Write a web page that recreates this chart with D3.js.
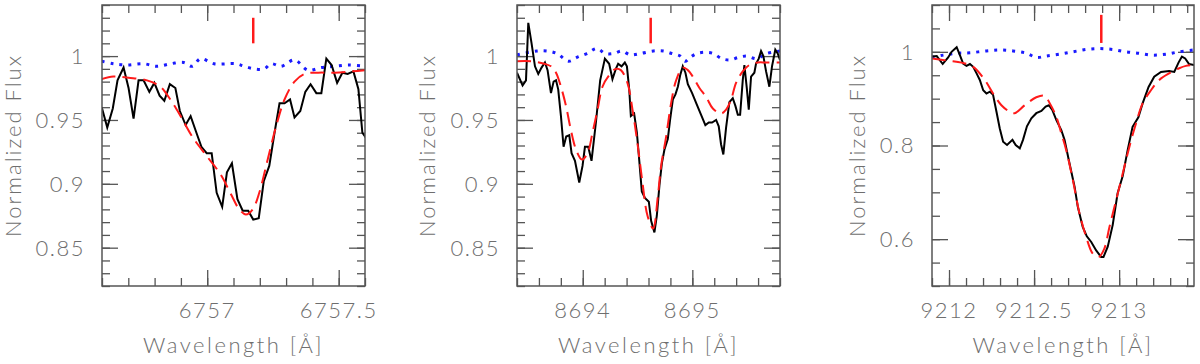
<!DOCTYPE html>
<html>
<head>
<meta charset="utf-8">
<script src="https://cdn.jsdelivr.net/npm/d3@7"></script>
<style>
  body { margin: 0; background: #fff; }
  svg text { font-family: Lato, "DejaVu Sans", sans-serif; font-weight: 300; fill: #6e6e6e; }
</style>
</head>
<body>
<svg id="chart" width="1200" height="364"></svg>
<script>
// ---- panel 1 : 6757 A ----
var xDomain1 = [6756.6, 6757.6];
var yDomain1 = [0.82, 1.04];
var xTicks1 = [6757, 6757.5];
var yTicks1 = [0.85, 0.9, 0.95, 1];
var obsWave1 = [6756.599, 6756.620, 6756.641, 6756.659, 6756.682, 6756.701, 6756.720, 6756.739, 6756.758, 6756.780,
  6756.799, 6756.819, 6756.837, 6756.858, 6756.879, 6756.896, 6756.918, 6756.937, 6756.959, 6756.978,
  6756.998, 6757.017, 6757.036, 6757.057, 6757.075, 6757.094, 6757.115, 6757.135, 6757.156, 6757.175,
  6757.196, 6757.215, 6757.236, 6757.256, 6757.275, 6757.294, 6757.315, 6757.332, 6757.354, 6757.373,
  6757.393, 6757.415, 6757.434, 6757.453, 6757.473, 6757.494, 6757.514, 6757.534, 6757.556, 6757.575,
  6757.590, 6757.607];
var obsFlux1 = [0.960, 0.944, 0.959, 0.981, 0.991, 0.975, 0.951, 0.981, 0.981, 0.972,
  0.979, 0.969, 0.965, 0.978, 0.975, 0.957, 0.946, 0.953, 0.940, 0.929,
  0.924, 0.924, 0.893, 0.882, 0.909, 0.916, 0.888, 0.879, 0.879, 0.872,
  0.873, 0.902, 0.914, 0.940, 0.963, 0.963, 0.966, 0.952, 0.957, 0.972,
  0.978, 0.971, 0.971, 0.998, 0.993, 0.979, 0.987, 0.986, 0.988, 0.974,
  0.940, 0.935];
var modelWave1 = [6756.599, 6756.643, 6756.701, 6756.771, 6756.822, 6756.860, 6756.899, 6756.943, 6757.001, 6757.052,
  6757.090, 6757.122, 6757.147, 6757.173, 6757.198, 6757.230, 6757.262, 6757.294, 6757.332, 6757.370,
  6757.422, 6757.485, 6757.549, 6757.606];
var modelFlux1 = [0.982, 0.984, 0.983, 0.981, 0.976, 0.966, 0.953, 0.937, 0.921, 0.907,
  0.892, 0.880, 0.876, 0.880, 0.893, 0.919, 0.945, 0.966, 0.980, 0.986,
  0.987, 0.987, 0.988, 0.989];
var tellWave1 = [6756.599, 6756.643, 6756.695, 6756.758, 6756.809, 6756.860, 6756.911, 6756.943, 6756.975, 6757.026,
  6757.109, 6757.141, 6757.179, 6757.217, 6757.243, 6757.281, 6757.332, 6757.383, 6757.434, 6757.485,
  6757.536, 6757.606];
var tellFlux1 = [0.996, 0.994, 0.993, 0.994, 0.992, 0.994, 0.995, 0.992, 0.998, 0.994,
  0.994, 0.992, 0.990, 0.990, 0.994, 0.992, 0.997, 0.989, 0.991, 0.992,
  0.993, 0.992];

// ---- panel 2 : 8694 A ----
var xDomain2 = [8693.4, 8695.8];
var yDomain2 = [0.82, 1.04];
var xTicks2 = [8694, 8695];
var yTicks2 = [0.85, 0.9, 0.95, 1];
var obsWave2 = [8693.400, 8693.451, 8693.482, 8693.503, 8693.533, 8693.564, 8693.594, 8693.624, 8693.655, 8693.679,
  8693.710, 8693.734, 8693.756, 8693.776, 8693.801, 8693.825, 8693.849, 8693.877, 8693.898, 8693.929,
  8693.968, 8693.998, 8694.020, 8694.050, 8694.080, 8694.120, 8694.159, 8694.202, 8694.241, 8694.271,
  8694.302, 8694.323, 8694.354, 8694.384, 8694.403, 8694.424, 8694.439, 8694.469, 8694.494, 8694.515,
  8694.539, 8694.567, 8694.603, 8694.624, 8694.654, 8694.676, 8694.700, 8694.722, 8694.746, 8694.776,
  8694.797, 8694.822, 8694.846, 8694.868, 8694.889, 8694.913, 8694.937, 8694.959, 8694.998, 8695.041,
  8695.080, 8695.119, 8695.150, 8695.180, 8695.217, 8695.241, 8695.262, 8695.283, 8695.308, 8695.338,
  8695.369, 8695.393, 8695.415, 8695.436, 8695.460, 8695.475, 8695.497, 8695.515, 8695.536, 8695.566,
  8695.581, 8695.606, 8695.627, 8695.648, 8695.673, 8695.703, 8695.727, 8695.757, 8695.779, 8695.800];
var obsFlux2 = [0.987, 0.977, 0.981, 1.026, 1.010, 0.992, 0.986, 0.991, 0.995, 0.989,
  0.971, 0.980, 0.981, 0.974, 0.953, 0.929, 0.937, 0.938, 0.924, 0.918,
  0.901, 0.914, 0.929, 0.929, 0.918, 0.948, 0.981, 0.998, 0.994, 0.982,
  0.990, 0.994, 0.992, 0.995, 0.992, 0.974, 0.953, 0.955, 0.940, 0.919,
  0.894, 0.889, 0.886, 0.871, 0.862, 0.875, 0.899, 0.916, 0.927, 0.935,
  0.950, 0.966, 0.970, 0.976, 0.985, 0.992, 0.987, 0.978, 0.971, 0.962,
  0.954, 0.946, 0.948, 0.948, 0.950, 0.945, 0.931, 0.923, 0.944, 0.964,
  0.967, 0.961, 0.954, 0.954, 0.981, 0.993, 0.975, 0.958, 0.984, 0.987,
  0.994, 0.998, 1.004, 1.000, 0.988, 0.976, 0.992, 1.005, 1.002, 0.997];
var modelWave2 = [8693.400, 8693.528, 8693.649, 8693.710, 8693.756, 8693.801, 8693.847, 8693.892, 8693.938, 8693.993,
  8694.044, 8694.089, 8694.135, 8694.180, 8694.241, 8694.302, 8694.348, 8694.408, 8694.454, 8694.499,
  8694.545, 8694.591, 8694.642, 8694.685, 8694.715, 8694.761, 8694.806, 8694.852, 8694.913, 8694.959,
  8695.004, 8695.065, 8695.126, 8695.187, 8695.262, 8695.308, 8695.354, 8695.399, 8695.460, 8695.520,
  8695.597, 8695.673, 8695.800];
var modelFlux2 = [0.996, 0.996, 0.994, 0.992, 0.987, 0.976, 0.961, 0.942, 0.927, 0.919,
  0.924, 0.940, 0.958, 0.976, 0.985, 0.990, 0.989, 0.979, 0.958, 0.932,
  0.901, 0.875, 0.865, 0.890, 0.914, 0.937, 0.963, 0.981, 0.991, 0.989,
  0.984, 0.975, 0.968, 0.959, 0.955, 0.958, 0.966, 0.979, 0.988, 0.993,
  0.995, 0.995, 0.995];
var tellWave2 = [8693.400, 8693.582, 8693.673, 8693.765, 8693.870, 8693.947, 8694.038, 8694.129, 8694.205, 8694.281,
  8694.357, 8694.433, 8694.524, 8694.645, 8694.736, 8694.813, 8694.889, 8694.934, 8694.980, 8695.041,
  8695.117, 8695.192, 8695.269, 8695.344, 8695.420, 8695.497, 8695.588, 8695.679, 8695.800];
var tellFlux2 = [1.001, 1.004, 1.004, 1.002, 0.996, 0.999, 1.002, 1.006, 1.002, 1.002,
  1.004, 1.001, 1.002, 1.004, 1.004, 1.002, 1.000, 0.996, 0.999, 1.002,
  1.003, 1.002, 0.998, 0.997, 0.999, 1.000, 0.998, 1.002, 1.004];

// ---- panel 3 : 9213 A ----
var xDomain3 = [9211.9, 9213.44];
var yDomain3 = [0.5, 1.1];
var xTicks3 = [9212, 9212.5, 9213];
var yTicks3 = [0.6, 0.8, 1];
var obsWave3 = [9211.898, 9211.928, 9211.963, 9211.995, 9212.015, 9212.045, 9212.064, 9212.083, 9212.103, 9212.123,
  9212.142, 9212.162, 9212.181, 9212.201, 9212.220, 9212.240, 9212.259, 9212.279, 9212.298, 9212.318,
  9212.341, 9212.373, 9212.392, 9212.416, 9212.435, 9212.458, 9212.484, 9212.513, 9212.543, 9212.568,
  9212.587, 9212.607, 9212.631, 9212.660, 9212.679, 9212.704, 9212.738, 9212.757, 9212.786, 9212.810,
  9212.836, 9212.865, 9212.894, 9212.908, 9212.933, 9212.962, 9212.991, 9213.021, 9213.050, 9213.079,
  9213.113, 9213.138, 9213.173, 9213.206, 9213.246, 9213.294, 9213.324, 9213.349, 9213.369, 9213.388,
  9213.411, 9213.441];
var obsFlux3 = [0.990, 0.991, 0.974, 0.988, 1.000, 1.010, 0.993, 0.975, 0.970, 0.974,
  0.968, 0.954, 0.940, 0.918, 0.911, 0.915, 0.908, 0.872, 0.837, 0.808,
  0.801, 0.812, 0.801, 0.794, 0.812, 0.841, 0.858, 0.869, 0.874, 0.883,
  0.886, 0.876, 0.854, 0.833, 0.812, 0.769, 0.712, 0.669, 0.626, 0.606,
  0.594, 0.576, 0.562, 0.562, 0.584, 0.630, 0.698, 0.735, 0.790, 0.840,
  0.860, 0.890, 0.925, 0.947, 0.957, 0.959, 0.957, 0.977, 0.990, 0.986,
  0.974, 0.972];
var modelWave3 = [9211.898, 9211.995, 9212.074, 9212.142, 9212.210, 9212.259, 9212.308, 9212.357, 9212.386, 9212.445,
  9212.513, 9212.562, 9212.591, 9212.631, 9212.660, 9212.689, 9212.728, 9212.767, 9212.806, 9212.845,
  9212.880, 9212.913, 9212.943, 9212.982, 9213.021, 9213.060, 9213.099, 9213.138, 9213.187, 9213.236,
  9213.294, 9213.353, 9213.392, 9213.441];
var modelFlux3 = [0.986, 0.981, 0.977, 0.968, 0.940, 0.911, 0.886, 0.872, 0.869, 0.886,
  0.903, 0.906, 0.891, 0.861, 0.826, 0.790, 0.726, 0.655, 0.605, 0.569,
  0.562, 0.580, 0.626, 0.683, 0.740, 0.797, 0.847, 0.890, 0.918, 0.940,
  0.954, 0.965, 0.970, 0.972];
var tellWave3 = [9211.898, 9211.966, 9212.045, 9212.123, 9212.220, 9212.298, 9212.376, 9212.455, 9212.513, 9212.572,
  9212.650, 9212.728, 9212.806, 9212.884, 9212.962, 9213.040, 9213.118, 9213.196, 9213.275, 9213.353,
  9213.437];
var tellFlux3 = [0.988, 0.993, 0.997, 0.998, 1.002, 1.004, 1.002, 0.997, 0.988, 0.991,
  0.995, 1.000, 1.005, 1.007, 1.005, 1.000, 0.997, 0.993, 0.995, 1.000,
  1.004];

// line centre markers: wavelength, lower and upper flux
var markerWave = [6757.175, 8694.62, 9212.895];
var markerLow = [1.010, 1.010, 1.019];
var markerHigh = [1.030, 1.030, 1.079];

// minor tick steps per panel
var minorX = [0.1, 0.2, 0.1];
var minorY = [0.01, 0.01, 0.05];

// ---- layout ----
var plotTop = 5, plotBottom = 286;
var layout = [
  { left: 102, right: 365, ylab: 89 },
  { left: 517, right: 780, ylab: 90 },
  { left: 932, right: 1194, ylab: 75 }
];

var panels = [
  { xd: xDomain1, yd: yDomain1, xt: xTicks1, yt: yTicks1, ow: obsWave1, of: obsFlux1, mw: modelWave1, mf: modelFlux1, tw: tellWave1, tf: tellFlux1 },
  { xd: xDomain2, yd: yDomain2, xt: xTicks2, yt: yTicks2, ow: obsWave2, of: obsFlux2, mw: modelWave2, mf: modelFlux2, tw: tellWave2, tf: tellFlux2 },
  { xd: xDomain3, yd: yDomain3, xt: xTicks3, yt: yTicks3, ow: obsWave3, of: obsFlux3, mw: modelWave3, mf: modelFlux3, tw: tellWave3, tf: tellFlux3 }
];

var svg = d3.select("#chart");
var frameColor = "#555";

function minorValues(domain, step) {
  var out = [];
  var start = Math.ceil(domain[0] / step - 1e-6);
  for (var k = start; k * step <= domain[1] + 1e-9; k++) out.push(+(k * step).toFixed(4));
  return out;
}

panels.forEach(function(p, i) {
  var L = layout[i];
  var x = d3.scaleLinear().domain(p.xd).range([L.left, L.right]);
  var y = d3.scaleLinear().domain(p.yd).range([plotBottom, plotTop]);
  var g = svg.append("g");

  g.append("clipPath").attr("id", "clip" + i)
    .append("rect")
      .attr("x", L.left).attr("y", plotTop)
      .attr("width", L.right - L.left).attr("height", plotBottom - plotTop);

  // ticks on all four sides
  var xMinor = minorValues(p.xd, minorX[i]);
  var yMinor = minorValues(p.yd, minorY[i]);
  function tickStyle(sel) {
    sel.select(".domain").remove();
    sel.selectAll("line").attr("stroke", frameColor).attr("stroke-width", 1.3);
  }
  [[xMinor, 8], [p.xt, 16]].forEach(function(t) {
    g.append("g").attr("transform", "translate(0," + plotBottom + ")")
      .call(d3.axisBottom(x).tickValues(t[0]).tickSize(-t[1]).tickFormat(""))
      .call(tickStyle);
    g.append("g").attr("transform", "translate(0," + plotTop + ")")
      .call(d3.axisTop(x).tickValues(t[0]).tickSize(-t[1]).tickFormat(""))
      .call(tickStyle);
  });
  [[yMinor, 8], [p.yt, 16]].forEach(function(t) {
    g.append("g").attr("transform", "translate(" + L.left + ",0)")
      .call(d3.axisLeft(y).tickValues(t[0]).tickSize(-t[1]).tickFormat(""))
      .call(tickStyle);
    g.append("g").attr("transform", "translate(" + L.right + ",0)")
      .call(d3.axisRight(y).tickValues(t[0]).tickSize(-t[1]).tickFormat(""))
      .call(tickStyle);
  });

  // tick labels
  g.selectAll(".xl").data(p.xt).enter().append("text")
    .attr("x", function(d) { return x(d); })
    .attr("y", 318)
    .attr("text-anchor", "middle")
    .attr("font-size", 22)
    .attr("letter-spacing", 1.5)
    .text(function(d) { return String(d); });

  g.selectAll(".yl").data(p.yt).enter().append("text")
    .attr("x", L.left - 17)
    .attr("y", function(d) { return y(d); })
    .attr("dy", "0.36em")
    .attr("text-anchor", "end")
    .attr("font-size", 22)
    .attr("letter-spacing", 1.5)
    .text(function(d) { return String(d); });

  // axis titles
  g.append("text")
    .attr("x", (L.left + L.right) / 2)
    .attr("y", 353)
    .attr("text-anchor", "middle")
    .attr("font-size", 22)
    .attr("letter-spacing", 2.5)
    .text("Wavelength [Å]");

  g.append("text")
    .attr("transform", "translate(" + (L.left - L.ylab) + "," + ((plotTop + plotBottom) / 2) + ") rotate(-90)")
    .attr("dy", "0.36em")
    .attr("text-anchor", "middle")
    .attr("font-size", 22)
    .attr("letter-spacing", 2)
    .text("Normalized Flux");

  var plot = g.append("g").attr("clip-path", "url(#clip" + i + ")");

  function series(w, f) { return w.map(function(d, k) { return [d, f[k]]; }); }
  var line = d3.line().x(function(d) { return x(d[0]); }).y(function(d) { return y(d[1]); });
  var smooth = d3.line().curve(d3.curveCatmullRom).x(function(d) { return x(d[0]); }).y(function(d) { return y(d[1]); });

  plot.append("path").datum(series(p.tw, p.tf))
    .attr("d", smooth)
    .attr("fill", "none")
    .attr("stroke", "#1a1aff")
    .attr("stroke-width", 3)
    .attr("stroke-dasharray", "3,6");

  plot.append("path").datum(series(p.ow, p.of))
    .attr("d", line)
    .attr("fill", "none")
    .attr("stroke", "#000")
    .attr("stroke-width", 2);

  plot.append("path").datum(series(p.mw, p.mf))
    .attr("d", smooth)
    .attr("fill", "none")
    .attr("stroke", "#ff1a1a")
    .attr("stroke-width", 2)
    .attr("stroke-dasharray", "14,7");

  // line marker
  plot.append("line")
    .attr("x1", x(markerWave[i])).attr("x2", x(markerWave[i]))
    .attr("y1", y(markerLow[i])).attr("y2", y(markerHigh[i]))
    .attr("stroke", "#ff1a1a")
    .attr("stroke-width", 2.5);

  // frame
  g.append("rect")
    .attr("x", L.left).attr("y", plotTop)
    .attr("width", L.right - L.left).attr("height", plotBottom - plotTop)
    .attr("fill", "none")
    .attr("stroke", frameColor)
    .attr("stroke-width", 1.5);
});
</script>
</body>
</html>
